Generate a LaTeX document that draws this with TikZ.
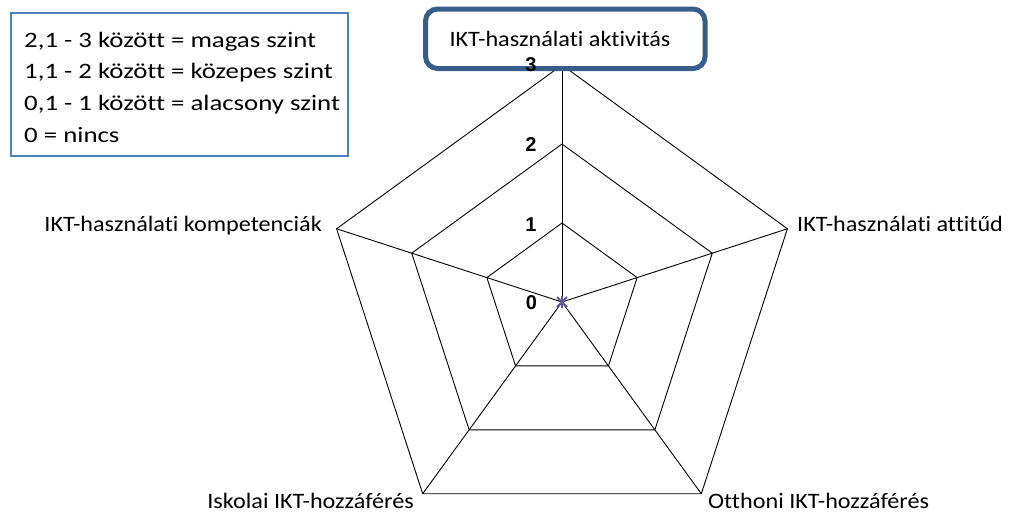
\documentclass[tikz,border=0pt]{standalone}
\usepackage{fontspec}
\usetikzlibrary{calc}
\setmainfont{Carlito}
\newfontfamily\lblfont{Carlito}[FakeStretch=1.1,Ligatures=NoCommon]
\newfontfamily\legfont{Carlito}[FakeStretch=1.22,Ligatures=NoCommon]
\newfontfamily\numfont{Liberation Sans}
\begin{document}
\begin{tikzpicture}[x=1pt,y=-1pt,
  gridline/.style={draw=black,line width=0.9pt},
  lbl/.style={inner sep=0pt,font=\lblfont\fontsize{22}{26}\selectfont},
  leg/.style={inner sep=0pt,anchor=base west,font=\legfont\fontsize{22}{26}\selectfont},
  num/.style={inner sep=0pt,font=\numfont\bfseries\fontsize{20}{22}\selectfont},
  legendbox/.style={draw={rgb,255:red,79;green,129;blue,189},line width=2pt},
  titlebox/.style={draw={rgb,255:red,56;green,93;blue,138},line width=5pt,rounded corners=12pt,fill=white},
  starmark/.style={draw={rgb,255:red,90;green,90;blue,150},line width=2pt}]
\useasboundingbox (0,0) rectangle (1010,512);
\coordinate (O) at (562,302);
\begin{scope}[shift={(562,302)}]
  \foreach \r/\n in {79/a,158/b,237/c}{
    \coordinate (\n1) at (-90:\r);
    \coordinate (\n2) at (-18:\r);
    \coordinate (\n3) at (54:\r);
    \coordinate (\n4) at (126:\r);
    \coordinate (\n5) at (198:\r);
    \draw[gridline] (\n1) -- (\n2) -- (\n3) -- (\n4) -- (\n5) -- cycle;
  }
\end{scope}
\foreach \i in {1,...,5}{\draw[gridline] (O) -- (c\i);}
% center marker
\draw[starmark] ($(O)+(-5,-5)$) -- ($(O)+(5,5)$) ($(O)+(-5,5)$) -- ($(O)+(5,-5)$) ($(O)+(0,-6)$) -- ($(O)+(0,6)$);
% title box
\draw[titlebox] (425.5,9) rectangle (705,68.5);
\node[lbl,anchor=base] (title) at (560,46.7) {IKT-használati aktivitás};
% axis numbers
\node[num] (n3) at (531,64.5) {3};
\node[num] (n2) at (531,145) {2};
\node[num] (n1) at (531,224.5) {1};
\node[num] (n0) at (531.5,302.5) {0};
% axis labels
\node[lbl,anchor=base east] (lk) at (322,231) {IKT-használati kompetenciák};
\node[lbl,anchor=base west] (la) at (797,231) {IKT-használati attitűd};
\node[lbl,anchor=base east] (li) at (414,508) {Iskolai IKT-hozzáférés};
\node[lbl,anchor=base west] (lo) at (708,508) {Otthoni IKT-hozzáférés};
% legend
\draw[legendbox] (11,13) rectangle (348,156);
\node[leg] (g1) at (24,47.7) {2,1 - 3 között = magas szint};
\node[leg] (g2) at (24,78.7) {1,1 - 2 között = közepes szint};
\node[leg] (g3) at (24,110) {0,1 - 1 között = alacsony szint};
\node[leg] (g4) at (24,142) {0 = nincs};
\end{tikzpicture}
\end{document}
